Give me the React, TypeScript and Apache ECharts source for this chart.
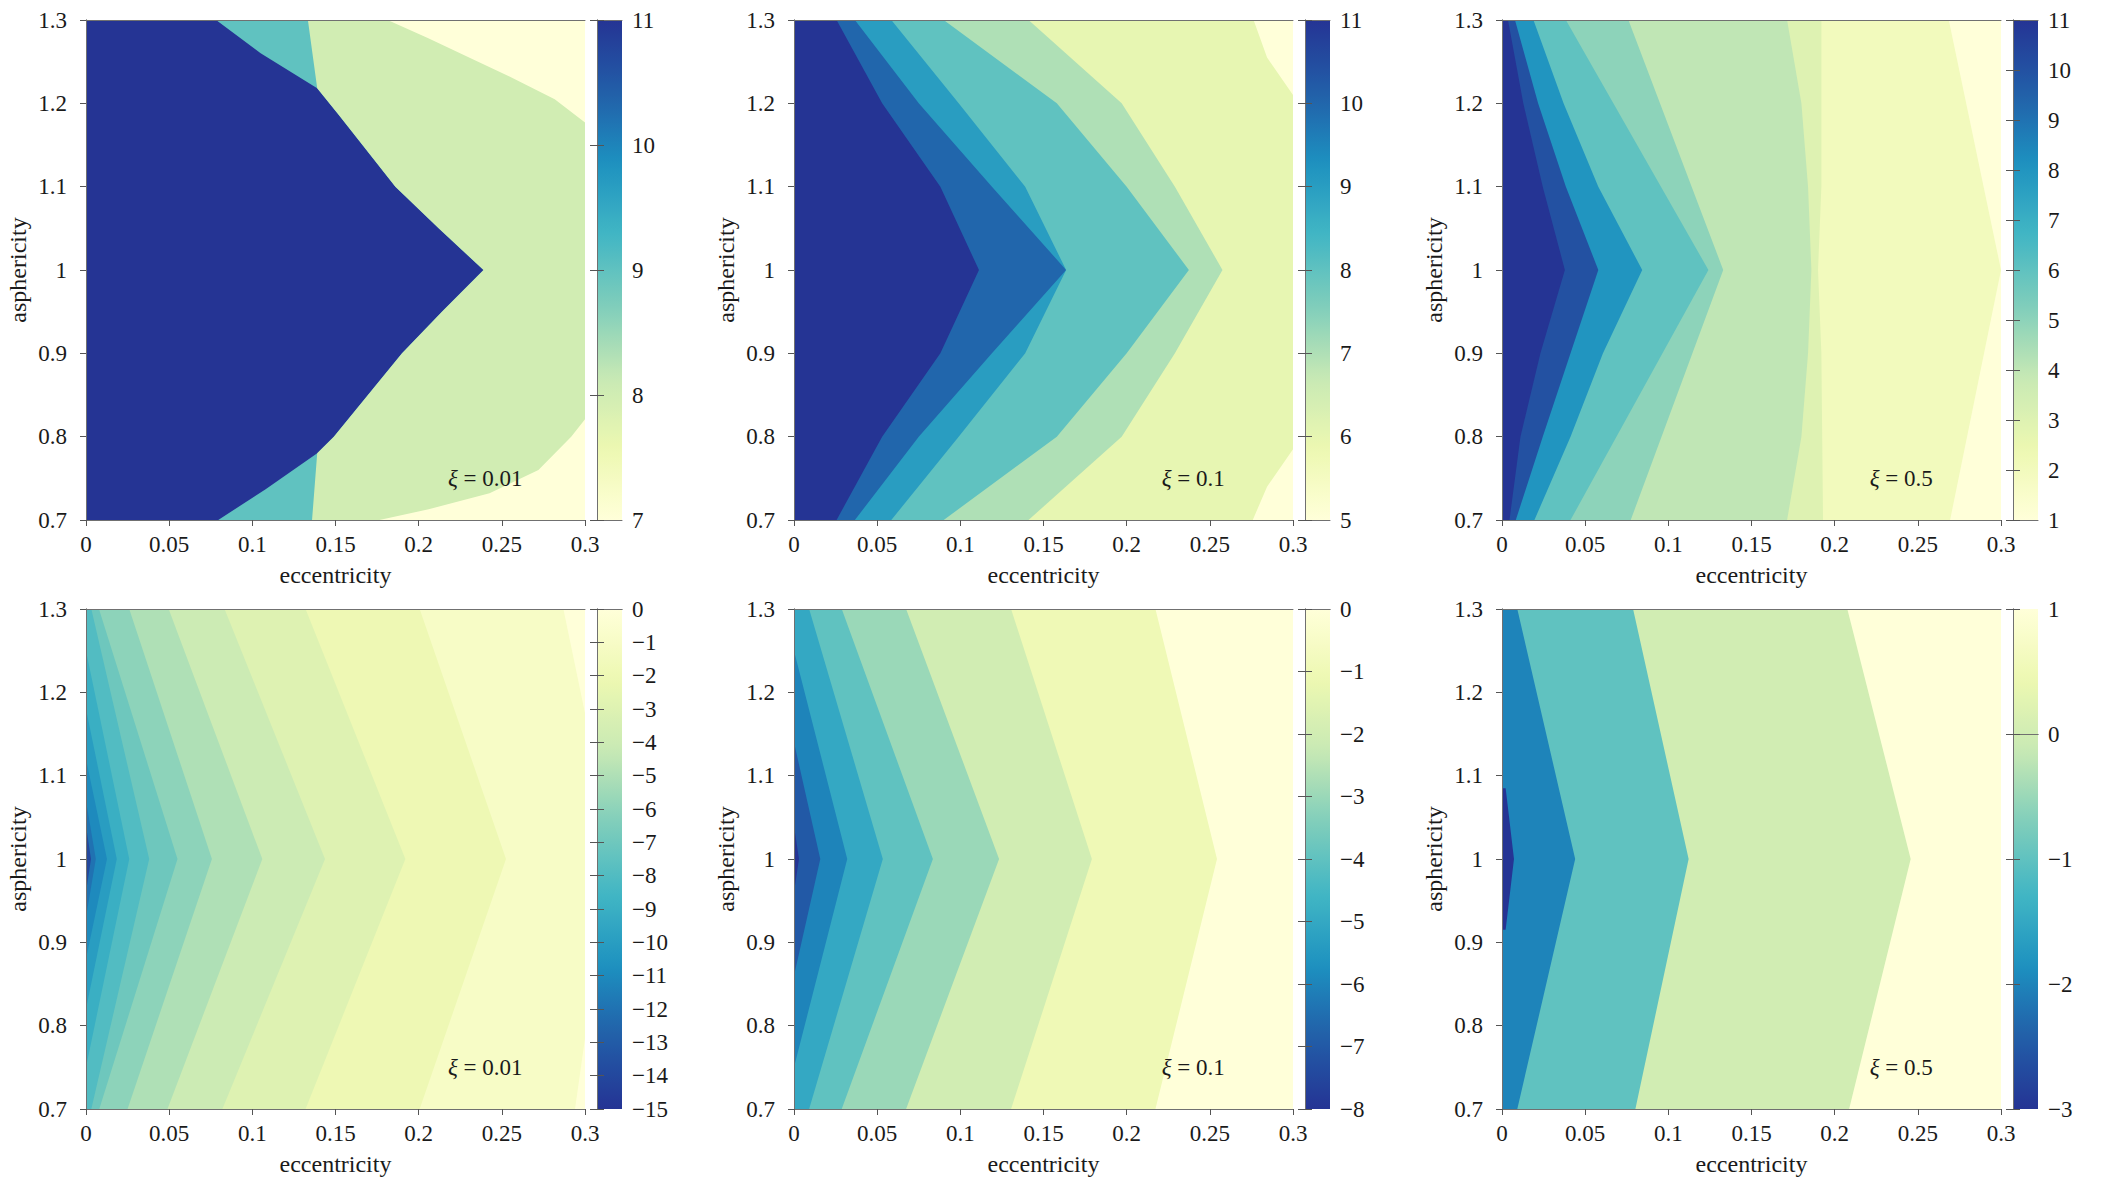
import React, { useEffect, useRef } from "react";
import * as echarts from "echarts";

// YlGnBu colour ramp, from light (low end) to dark (high end)
const YLGNBU = ["#ffffd9", "#edf8b1", "#c7e9b4", "#7fcdbb", "#41b6c4", "#1d91c0", "#225ea8", "#253494"];

type Pt = [number, number]; // [eccentricity, asphericity]

// Each panel: plateau levels from left to right, and the level boundaries
// between them (polylines listed from asphericity 0.7 up to 1.3).

// ---- top row ----
const P1_XI = 0.01;
const P1_RANGE: [number, number] = [7, 11];
const P1_LEVELS = [11, 9, 8, 7];
const P1_EDGES: Pt[][] = [
  [[0.0795, 0.7], [0.108, 0.737], [0.139, 0.78], [0.149, 0.8], [0.19, 0.9], [0.214, 0.95], [0.239, 1.0], [0.212, 1.05], [0.186, 1.1], [0.152, 1.186], [0.139, 1.218], [0.105, 1.26], [0.0782, 1.3]],
  [[0.1359, 0.7], [0.139, 0.78], [0.149, 0.8], [0.19, 0.9], [0.214, 0.95], [0.239, 1.0], [0.212, 1.05], [0.186, 1.1], [0.152, 1.186], [0.139, 1.218], [0.1334, 1.3]],
  [[0.1764, 0.7], [0.206, 0.713], [0.2426, 0.732], [0.272, 0.76], [0.2917, 0.8], [0.3, 0.821], [0.3, 1.177], [0.2818, 1.205], [0.2549, 1.232], [0.2303, 1.255], [0.2058, 1.278], [0.1813, 1.3]],
];

const P2_XI = 0.1;
const P2_RANGE: [number, number] = [5, 11];
const P2_LEVELS = [11, 10, 9, 8, 7, 6, 5];
const P2_EDGES: Pt[][] = [
  [[0.0256, 0.7], [0.053, 0.8], [0.088, 0.9], [0.1112, 1.0], [0.088, 1.1], [0.053, 1.2], [0.0256, 1.3]],
  [[0.0366, 0.7], [0.075, 0.8], [0.119, 0.9], [0.1636, 1.0], [0.119, 1.1], [0.075, 1.2], [0.0366, 1.3]],
  [[0.0585, 0.7], [0.099, 0.8], [0.139, 0.9], [0.1636, 1.0], [0.139, 1.1], [0.099, 1.2], [0.0585, 1.3]],
  [[0.09, 0.7], [0.158, 0.8], [0.2, 0.9], [0.2374, 1.0], [0.2, 1.1], [0.158, 1.2], [0.09, 1.3]],
  [[0.141, 0.7], [0.197, 0.8], [0.229, 0.9], [0.2576, 1.0], [0.229, 1.1], [0.197, 1.2], [0.141, 1.3]],
  [[0.2758, 0.7], [0.2844, 0.74], [0.3, 0.785], [0.3, 1.21], [0.2844, 1.255], [0.2763, 1.3]],
];

const P3_XI = 0.5;
const P3_RANGE: [number, number] = [1, 11];
const P3_LEVELS = [11, 10, 8, 6, 5, 4, 3, 2, 1];
const P3_EDGES: Pt[][] = [
  [[0.0045, 0.7], [0.0111, 0.8], [0.0231, 0.9], [0.0378, 1.0], [0.0245, 1.1], [0.0128, 1.2], [0.0036, 1.3]],
  [[0.0083, 0.7], [0.0245, 0.8], [0.0412, 0.9], [0.0579, 1.0], [0.0384, 1.1], [0.0217, 1.2], [0.0078, 1.3]],
  [[0.0195, 0.7], [0.0412, 0.8], [0.0607, 0.9], [0.0843, 1.0], [0.0579, 1.1], [0.037, 1.2], [0.0189, 1.3]],
  [[0.0412, 0.7], [0.1241, 1.0], [0.0384, 1.3]],
  [[0.0774, 0.7], [0.133, 1.0], [0.076, 1.3]],
  [[0.1714, 0.7], [0.18, 0.8], [0.184, 0.9], [0.186, 1.0], [0.184, 1.1], [0.18, 1.2], [0.1714, 1.3]],
  [[0.193, 0.7], [0.192, 0.9], [0.19, 1.0], [0.192, 1.1], [0.192, 1.3]],
  [[0.2694, 0.7], [0.3, 1.0], [0.2686, 1.3]],
];

// ---- bottom row ----
const P4_XI = 0.01;
const P4_RANGE: [number, number] = [-15, 0];
const P4_LEVELS = [-14, -12, -11, -10, -9, -8, -7, -6, -5, -4, -3, -2, -1, 0];
const P4_EDGES: Pt[][] = [
  [[0, 0.7], [0, 0.96], [0.003, 1.0], [0, 1.04], [0, 1.3]],
  [[0, 0.7], [0, 0.93], [0.0059, 1.0], [0, 1.07], [0, 1.3]],
  [[0, 0.7], [0, 0.88], [0.0126, 1.0], [0, 1.12], [0, 1.3]],
  [[0, 0.7], [0, 0.82], [0.0185, 1.0], [0, 1.18], [0, 1.3]],
  [[0, 0.7], [0, 0.75], [0.026, 1.0], [0, 1.25], [0, 1.3]],
  [[0.0032, 0.7], [0.038, 1.0], [0.0032, 1.3]],
  [[0.008, 0.7], [0.055, 1.0], [0.0078, 1.3]],
  [[0.025, 0.7], [0.0757, 1.0], [0.026, 1.3]],
  [[0.049, 0.7], [0.106, 1.0], [0.0497, 1.3]],
  [[0.082, 0.7], [0.1437, 1.0], [0.0833, 1.3]],
  [[0.132, 0.7], [0.192, 1.0], [0.132, 1.3]],
  [[0.2006, 0.7], [0.2525, 1.0], [0.2006, 1.3]],
  [[0.294, 0.7], [0.3, 0.785], [0.3, 1.175], [0.287, 1.3]],
];

const P5_XI = 0.1;
const P5_RANGE: [number, number] = [-8, 0];
const P5_LEVELS = [-8, -7, -6, -5, -4, -3, -2, -1, 0];
const P5_EDGES: Pt[][] = [
  [[0, 0.7], [0, 0.96], [0.003, 1.0], [0, 1.04], [0, 1.3]],
  [[0, 0.7], [0, 0.86], [0.0158, 1.0], [0, 1.14], [0, 1.3]],
  [[0, 0.7], [0, 0.75], [0.032, 1.0], [0, 1.25], [0, 1.3]],
  [[0.0091, 0.7], [0.0534, 1.0], [0.0091, 1.3]],
  [[0.0287, 0.7], [0.0835, 1.0], [0.0287, 1.3]],
  [[0.0674, 0.7], [0.1233, 1.0], [0.0674, 1.3]],
  [[0.1305, 0.7], [0.1791, 1.0], [0.1305, 1.3]],
  [[0.2173, 0.7], [0.2543, 1.0], [0.2173, 1.3]],
];

const P6_XI = 0.5;
const P6_RANGE: [number, number] = [-3, 1];
const P6_LEVELS = [-3, -2, -1, 0, 1];
const P6_EDGES: Pt[][] = [
  [[0, 0.7], [0, 0.915], [0.0022, 0.915], [0.0072, 1.0], [0.0022, 1.085], [0, 1.085], [0, 1.3]],
  [[0.0092, 0.7], [0.044, 1.0], [0.0092, 1.3]],
  [[0.0802, 0.7], [0.1122, 1.0], [0.0788, 1.3]],
  [[0.2087, 0.7], [0.2457, 1.0], [0.2076, 1.3]],
];

const X_TITLE = "eccentricity";
const Y_TITLE = "asphericity";

interface Panel {
  levels: number[];
  edges: Pt[][];
  range: [number, number];
  xi: number;
  reversed: boolean; // bottom row: dark end of the ramp at the minimum
}

const PANELS: Panel[] = [
  { levels: P1_LEVELS, edges: P1_EDGES, range: P1_RANGE, xi: P1_XI, reversed: false },
  { levels: P2_LEVELS, edges: P2_EDGES, range: P2_RANGE, xi: P2_XI, reversed: false },
  { levels: P3_LEVELS, edges: P3_EDGES, range: P3_RANGE, xi: P3_XI, reversed: false },
  { levels: P4_LEVELS, edges: P4_EDGES, range: P4_RANGE, xi: P4_XI, reversed: true },
  { levels: P5_LEVELS, edges: P5_EDGES, range: P5_RANGE, xi: P5_XI, reversed: true },
  { levels: P6_LEVELS, edges: P6_EDGES, range: P6_RANGE, xi: P6_XI, reversed: true },
];

const RAMP_RGB = YLGNBU.map((h) => [
  parseInt(h.slice(1, 3), 16),
  parseInt(h.slice(3, 5), 16),
  parseInt(h.slice(5, 7), 16),
]);

function ramp(s: number): string {
  const t = Math.min(1, Math.max(0, s)) * (RAMP_RGB.length - 1);
  const i = Math.min(RAMP_RGB.length - 2, Math.floor(t));
  const f = t - i;
  const c = RAMP_RGB[i].map((a, j) => Math.round(a + (RAMP_RGB[i + 1][j] - a) * f));
  return `rgb(${c[0]},${c[1]},${c[2]})`;
}

function shade(v: number, range: [number, number], reversed: boolean): string {
  const s = (v - range[0]) / (range[1] - range[0]);
  return ramp(reversed ? 1 - s : s);
}

const FONT = "'Liberation Serif', 'DejaVu Serif', serif";
const FS = 23;
const FS_TITLE = 24;
const TEXT = "#1a1a1a";
const FRAME = "#707070";

const COLS = [86, 794, 1502];
const ROWS = [20, 609];
const PW = 499;
const PH = 500;
const BAR_GAP = 12;
const BAR_W = 25;

const X_MIN = 0, X_MAX = 0.3, X_STEP = 0.05;
const Y_MIN = 0.7, Y_MAX = 1.3, Y_STEP = 0.1;

const minus = (v: number) => (v < 0 ? "\u2212" + Math.abs(v) : String(v));

function buildOption(): echarts.EChartsOption {
  const grid: any[] = [];
  const xAxis: any[] = [];
  const yAxis: any[] = [];
  const series: any[] = [];

  const frameAxis = (gridIndex: number, position: string, min: number, max: number) => ({
    type: "value",
    gridIndex,
    position,
    min,
    max,
    z: 10,
    axisLine: { show: true, lineStyle: { color: FRAME, width: 1 } },
    axisTick: { show: false },
    axisLabel: { show: false },
    splitLine: { show: false },
  });

  PANELS.forEach((p, k) => {
    const left = COLS[k % 3];
    const top = ROWS[Math.floor(k / 3)];
    const g = 2 * k;
    const a = 4 * k;

    grid.push({ left, top, width: PW, height: PH });
    grid.push({ left: left + PW + BAR_GAP, top, width: BAR_W, height: PH });

    // plot axes: bottom + top frame, left + right frame
    xAxis.push({
      type: "value",
      gridIndex: g,
      position: "bottom",
      min: X_MIN,
      max: X_MAX,
      interval: X_STEP,
      z: 10,
      axisLine: { show: true, onZero: false, lineStyle: { color: FRAME, width: 1 } },
      axisTick: { show: true, inside: false, length: 6, lineStyle: { color: "#555", width: 1 } },
      axisLabel: { margin: 13, color: TEXT, fontFamily: FONT, fontSize: FS },
      splitLine: { show: false },
      name: X_TITLE,
      nameLocation: "middle",
      nameGap: 43,
      nameTextStyle: { color: TEXT, fontFamily: FONT, fontSize: FS_TITLE },
    });
    xAxis.push(frameAxis(g, "top", X_MIN, X_MAX));
    xAxis.push(frameAxis(g + 1, "bottom", 0, 1));
    xAxis.push(frameAxis(g + 1, "top", 0, 1));

    yAxis.push({
      type: "value",
      gridIndex: g,
      position: "left",
      min: Y_MIN,
      max: Y_MAX,
      interval: Y_STEP,
      z: 10,
      axisLine: { show: true, onZero: false, lineStyle: { color: FRAME, width: 1 } },
      axisTick: { show: true, inside: false, length: 6, lineStyle: { color: "#555", width: 1 } },
      axisLabel: { margin: 19, color: TEXT, fontFamily: FONT, fontSize: FS },
      splitLine: { show: false },
      name: Y_TITLE,
      nameLocation: "middle",
      nameGap: 56,
      nameTextStyle: { color: TEXT, fontFamily: FONT, fontSize: FS_TITLE },
    });
    yAxis.push(frameAxis(g, "right", Y_MIN, Y_MAX));

    const barTicks = { show: true, inside: true, length: 7, lineStyle: { color: "#555", width: 1 } };
    yAxis.push({
      type: "value",
      gridIndex: g + 1,
      position: "left",
      min: p.range[0],
      max: p.range[1],
      interval: 1,
      z: 10,
      axisLine: { show: true, lineStyle: { color: FRAME, width: 1 } },
      axisTick: barTicks,
      axisLabel: { show: false },
      splitLine: { show: false },
    });
    yAxis.push({
      type: "value",
      gridIndex: g + 1,
      position: "right",
      min: p.range[0],
      max: p.range[1],
      interval: 1,
      z: 10,
      axisLine: { show: true, lineStyle: { color: FRAME, width: 1 } },
      axisTick: barTicks,
      axisLabel: {
        margin: 10,
        color: TEXT,
        fontFamily: FONT,
        fontSize: FS,
        formatter: (v: number) => minus(v),
      },
      splitLine: { show: false },
    });

    // plateau regions: each one covers everything right of its left boundary,
    // painted left to right so the next level overlays the previous one
    series.push({
      type: "custom",
      coordinateSystem: "cartesian2d",
      xAxisIndex: a,
      yAxisIndex: a,
      clip: true,
      silent: true,
      data: p.levels.map((v) => [0.15, 1, v]),
      encode: { x: 0, y: 1 },
      renderItem: (params: any, api: any) => {
        const i = params.dataIndex;
        const leftEdge: Pt[] = i === 0 ? [[X_MIN, Y_MIN], [X_MIN, Y_MAX]] : p.edges[i - 1];
        const pts = leftEdge
          .concat([[X_MAX, Y_MAX], [X_MAX, Y_MIN]] as Pt[])
          .map((q) => api.coord(q));
        return {
          type: "polygon",
          shape: { points: pts },
          style: { fill: shade(api.value(2), p.range, p.reversed) },
        };
      },
    });

    // parameter label inside the plot
    series.push({
      type: "custom",
      coordinateSystem: "cartesian2d",
      xAxisIndex: a,
      yAxisIndex: a,
      silent: true,
      z: 5,
      data: [[0.24, 0.75]],
      renderItem: (_params: any, api: any) => {
        const c = api.coord([api.value(0), api.value(1)]);
        return {
          type: "text",
          x: c[0],
          y: c[1],
          style: {
            text: `{i|\u03be} = ${p.xi}`,
            rich: { i: { fontStyle: "italic", fontFamily: FONT, fontSize: FS, fill: TEXT } },
            fontFamily: FONT,
            fontSize: FS,
            fill: TEXT,
            align: "center",
            verticalAlign: "middle",
          },
        };
      },
    });

    // colour bar
    series.push({
      type: "custom",
      coordinateSystem: "cartesian2d",
      xAxisIndex: a + 2,
      yAxisIndex: a + 2,
      silent: true,
      data: [[0.5, (p.range[0] + p.range[1]) / 2]],
      renderItem: (_params: any, api: any) => {
        const [lo, hi] = p.range;
        const c0 = api.coord([0, hi]);
        const c1 = api.coord([1, lo]);
        const stops = [];
        for (let j = 0; j <= 40; j++) {
          const o = j / 40;
          stops.push({ offset: o, color: shade(hi - o * (hi - lo), p.range, p.reversed) });
        }
        return {
          type: "rect",
          shape: { x: c0[0], y: c0[1], width: c1[0] - c0[0], height: c1[1] - c0[1] },
          style: { fill: new echarts.graphic.LinearGradient(0, 0, 0, 1, stops) },
        };
      },
    });
  });

  return {
    animation: false,
    backgroundColor: "#ffffff",
    grid,
    xAxis,
    yAxis,
    series,
  } as any;
}

export default function App() {
  const ref = useRef<HTMLDivElement>(null);

  useEffect(() => {
    if (!ref.current) return;
    const chart = echarts.init(ref.current, null, { renderer: "svg" });
    chart.setOption(buildOption());
    return () => chart.dispose();
  }, []);

  return (
    <div
      ref={ref}
      style={{ position: "fixed", left: 0, top: 0, width: 2125, height: 1180, background: "#fff" }}
    />
  );
}
